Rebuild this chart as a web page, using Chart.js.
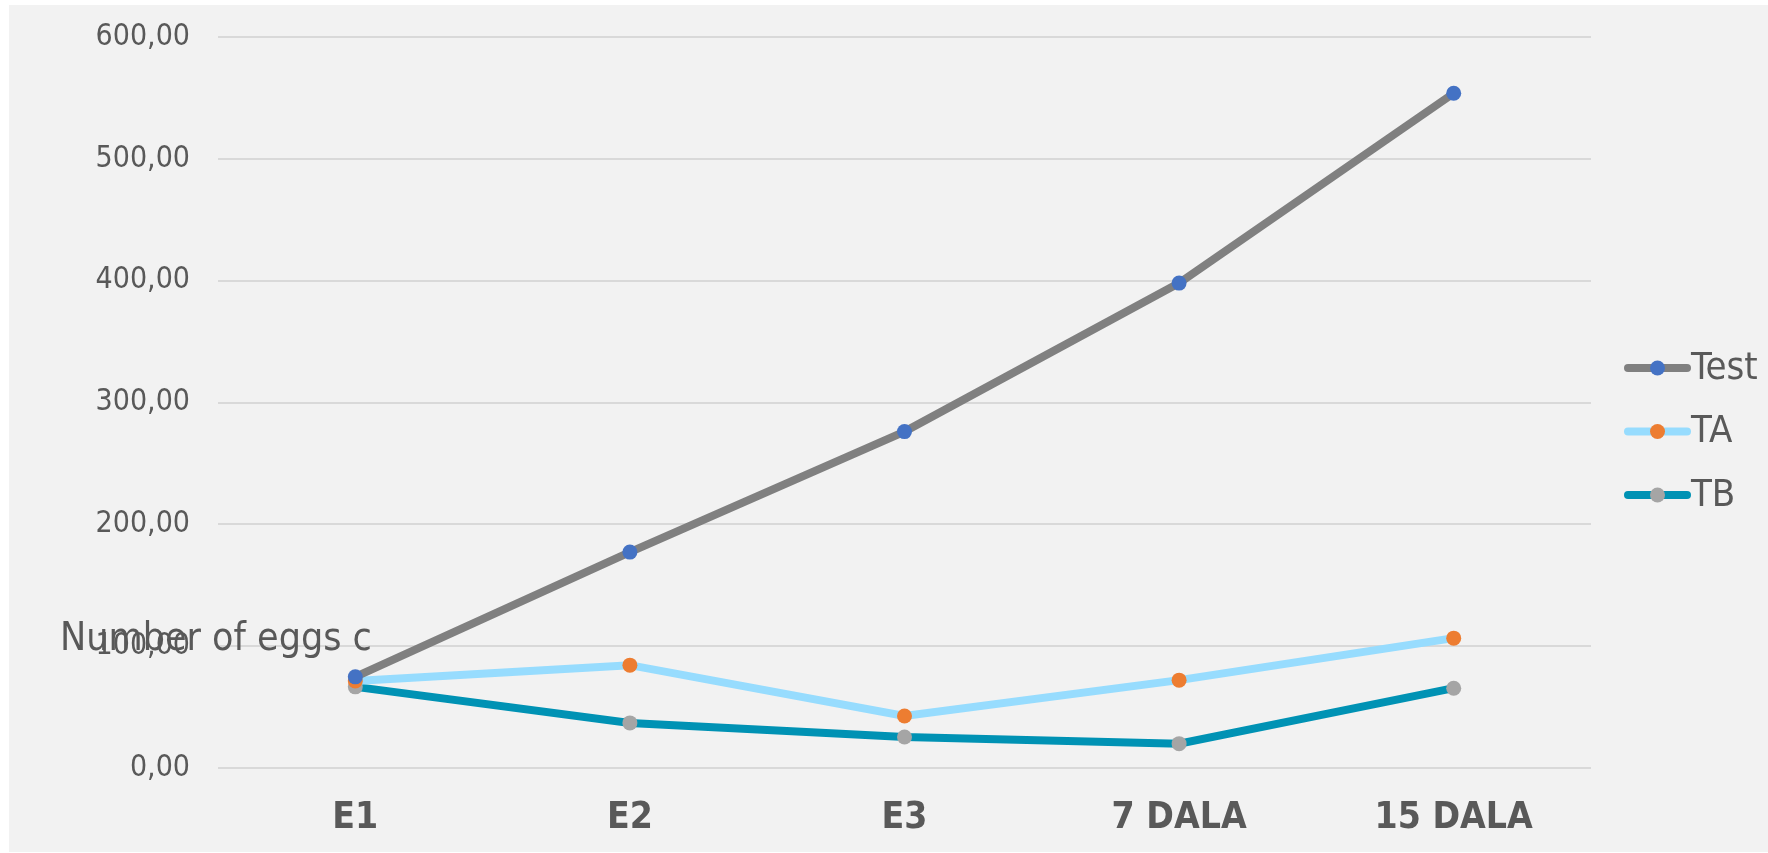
<!DOCTYPE html>
<html>
<head>
<meta charset="utf-8">
<script src="https://cdn.jsdelivr.net/npm/chart.js@4.4.0/dist/chart.umd.min.js"></script>
<style>
    html, body { margin: 0; padding: 0; background: #ffffff; }
    #wrap { position: absolute; left: 9px; top: 5px; width: 1759px; height: 847px; background: #f2f2f2; }
</style>
</head>
<body>
<div id="wrap"><canvas id="chart" width="1759" height="847"></canvas></div>
<script>
const categories = ["E1", "E2", "E3", "7 DALA", "15 DALA"]
const seriesNames = ["Test", "TA", "TB"]
const testValues = [74.8, 177.2, 276.1, 398.0, 553.8]
const taValues = [71.5, 84.4, 42.7, 72.1, 106.6]
const tbValues = [66.6, 37.0, 25.5, 20.0, 65.5]
const yTicks = [0, 100, 200, 300, 400, 500, 600]
const yTitle = "Number of eggs c"

const condensed = "'DejaVu Sans Condensed', 'Liberation Sans Narrow', sans-serif"
const textColor = "#595959"

const lineColors = ["#808080", "#97dcfe", "#0092b4"]
const pointColors = ["#4472c4", "#ed7d31", "#a5a5a5"]

const makeDataset = (label, data, i) => ({
    label,
    data,
    borderColor: lineColors[i],
    backgroundColor: pointColors[i],
    pointBackgroundColor: pointColors[i],
    pointBorderColor: pointColors[i],
    borderWidth: 8,
    pointRadius: 7.5,
    pointBorderWidth: 0,
    tension: 0,
})

// legend with a line sample and a marker in its middle, like Excel
const sideLegend = {
    id: "sideLegend",
    afterDraw(chart) {
        const ctx = chart.ctx
        const x0 = chart.chartArea.right + 37
        ctx.save()
        chart.data.datasets.forEach((ds, i) => {
            const y = 363 + i * 63.5
            ctx.strokeStyle = ds.borderColor
            ctx.lineWidth = 8
            ctx.lineCap = "round"
            ctx.beginPath()
            ctx.moveTo(x0, y)
            ctx.lineTo(x0 + 59, y)
            ctx.stroke()
            ctx.fillStyle = ds.pointBackgroundColor
            ctx.beginPath()
            ctx.arc(x0 + 29.5, y, 7.5, 0, Math.PI * 2)
            ctx.fill()
            ctx.fillStyle = textColor
            ctx.font = `38px ${condensed}`
            ctx.textBaseline = "middle"
            ctx.textAlign = "left"
            ctx.fillText(ds.label, x0 + 63, y + 1)
        })
        ctx.restore()
    },
}

// the cut off axis title sits over the 100,00 tick in the original
const yTitlePlugin = {
    id: "yTitlePlugin",
    afterDraw(chart) {
        const ctx = chart.ctx
        const y = chart.scales.y.getPixelForValue(yTicks[1]) - 6
        ctx.save()
        ctx.fillStyle = textColor
        ctx.font = `39px ${condensed}`
        ctx.textBaseline = "middle"
        ctx.textAlign = "left"
        ctx.fillText(yTitle, 51, y)
        ctx.restore()
    },
}

new Chart(document.getElementById("chart"), {
    type: "line",
    data: {
        labels: categories,
        datasets: [
            makeDataset(seriesNames[0], testValues, 0),
            makeDataset(seriesNames[1], taValues, 1),
            makeDataset(seriesNames[2], tbValues, 2),
        ],
    },
    plugins: [sideLegend, yTitlePlugin],
    options: {
        responsive: false,
        animation: false,
        layout: { padding: { top: 32, right: 177, left: 0, bottom: 0 } },
        plugins: {
            legend: { display: false },
            tooltip: { enabled: false },
        },
        scales: {
            x: {
                offset: true,
                grid: { display: false, drawTicks: false, offset: true },
                border: { display: false },
                ticks: {
                    color: textColor,
                    font: { family: condensed, size: 37, weight: "bold" },
                    padding: 28,
                    maxRotation: 0,
                },
                afterFit(scale) {
                    scale.height = 84
                    scale.paddingLeft = 0
                    scale.paddingRight = 0
                },
            },
            y: {
                min: yTicks[0],
                max: yTicks[yTicks.length - 1],
                afterBuildTicks(scale) { scale.ticks = yTicks.map((v) => ({ value: v })) },
                grid: { color: "#d9d9d9", lineWidth: 2, drawTicks: false },
                border: { display: false },
                ticks: {
                    color: textColor,
                    font: { family: condensed, size: 30 },
                    padding: 28,
                    callback: (v) => v.toFixed(2).replace(".", ","),
                },
                afterFit(scale) {
                    scale.width = 209
                    scale.paddingTop = 0
                    scale.paddingBottom = 0
                },
            },
        },
    },
})
</script>
</body>
</html>
